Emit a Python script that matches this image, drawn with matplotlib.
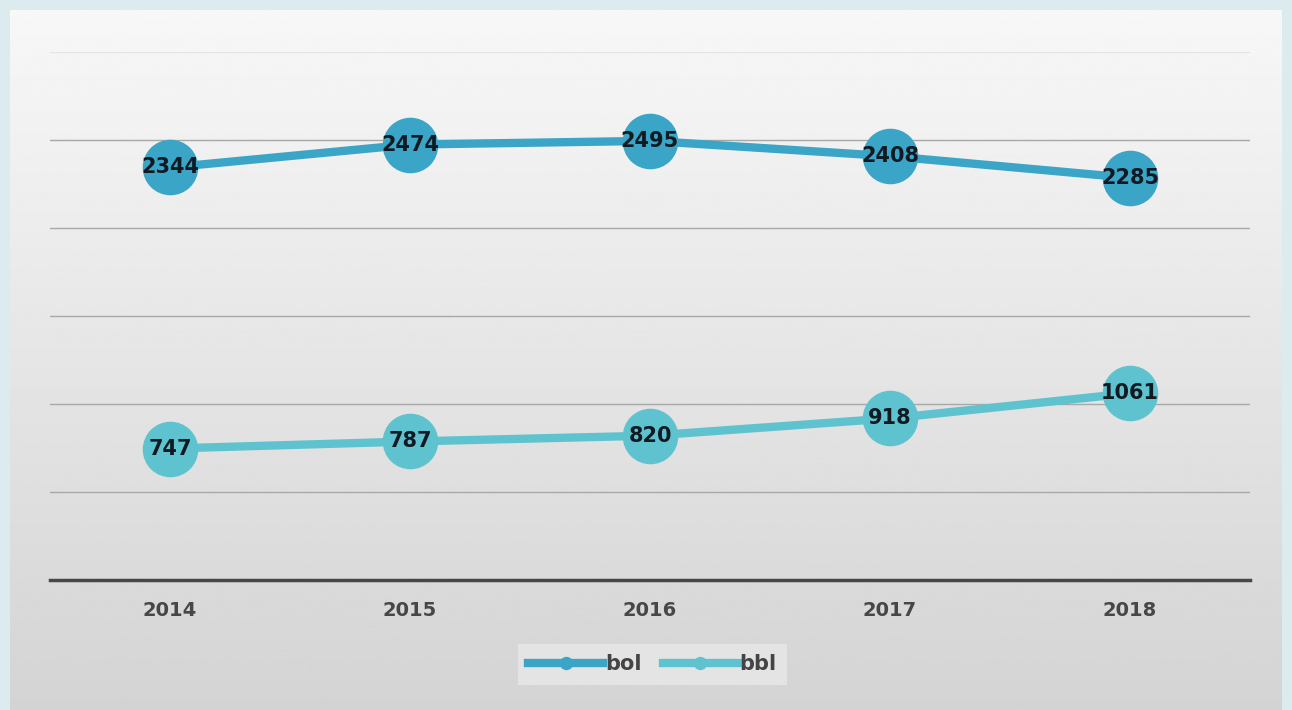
import matplotlib.pyplot as plt
import numpy as np

# Datos
anios = ["2014", "2015", "2016", "2017", "2018"]
bol = [2344, 2474, 2495, 2408, 2285]
bbl = [747, 787, 820, 918, 1061]

color_bol = "#3aa5c6"
color_bbl = "#5fc3cf"

fig = plt.figure(figsize=(12.92, 7.10), dpi=100)
fig.patch.set_facecolor("#dcecee")

# fondo degradado del panel (claro arriba, gris abajo)
bg = fig.add_axes([10 / 1292, 0, 1272 / 1292, 700 / 710])
grad = np.linspace(0.83, 0.97, 256).reshape(-1, 1)
bg.imshow(grad, aspect="auto", cmap="gray", vmin=0, vmax=1,
          extent=[0, 1, 0, 1], origin="lower")
bg.set_axis_off()

ax = fig.add_axes([50 / 1292, 1 - 580 / 710, 1200 / 1292, 528 / 710])
ax.patch.set_alpha(0)

x = np.arange(len(anios))
ax.plot(x, bol, "-o", color=color_bol, lw=6, markersize=39, label="bol", zorder=3)
ax.plot(x, bbl, "-o", color=color_bbl, lw=6, markersize=39, label="bbl", zorder=3)

for xi, v in zip(x, bol):
    ax.text(xi, v, str(v), ha="center", va="center", fontsize=15,
            fontweight="bold", color="#111a22", zorder=4)
for xi, v in zip(x, bbl):
    ax.text(xi, v, str(v), ha="center", va="center", fontsize=15,
            fontweight="bold", color="#111a22", zorder=4)

ax.set_xlim(-0.5, 4.5)
ax.set_ylim(0, 3000)
ax.set_yticks(np.arange(500, 3001, 500))
ax.yaxis.grid(True, color="#a8a8a8", lw=1)
ax.get_ygridlines()[-1].set_color("#e4e4e4")
ax.set_axisbelow(True)
ax.tick_params(axis="y", left=False, labelleft=False)
ax.tick_params(axis="x", length=0, pad=15)
ax.set_xticks(x)
ax.set_xticklabels(anios, fontsize=14, fontweight="semibold", color="#474747")
for s in ["top", "right", "left"]:
    ax.spines[s].set_visible(False)
ax.spines["bottom"].set_color("#474747")
ax.spines["bottom"].set_linewidth(2.5)

leg = ax.legend(loc="center", bbox_to_anchor=(0.502, -0.16), ncol=2,
                frameon=True, fancybox=False, markerscale=0.22,
                prop={"weight": "bold", "size": 15},
                handlelength=3.6, handletextpad=0.1, columnspacing=1.0,
                labelcolor="#444444", borderpad=0.5)
leg.get_frame().set_facecolor("#e4e4e4")
leg.get_frame().set_edgecolor("none")
leg.get_frame().set_alpha(1)

plt.savefig("out.png", dpi=100, facecolor=fig.get_facecolor())
